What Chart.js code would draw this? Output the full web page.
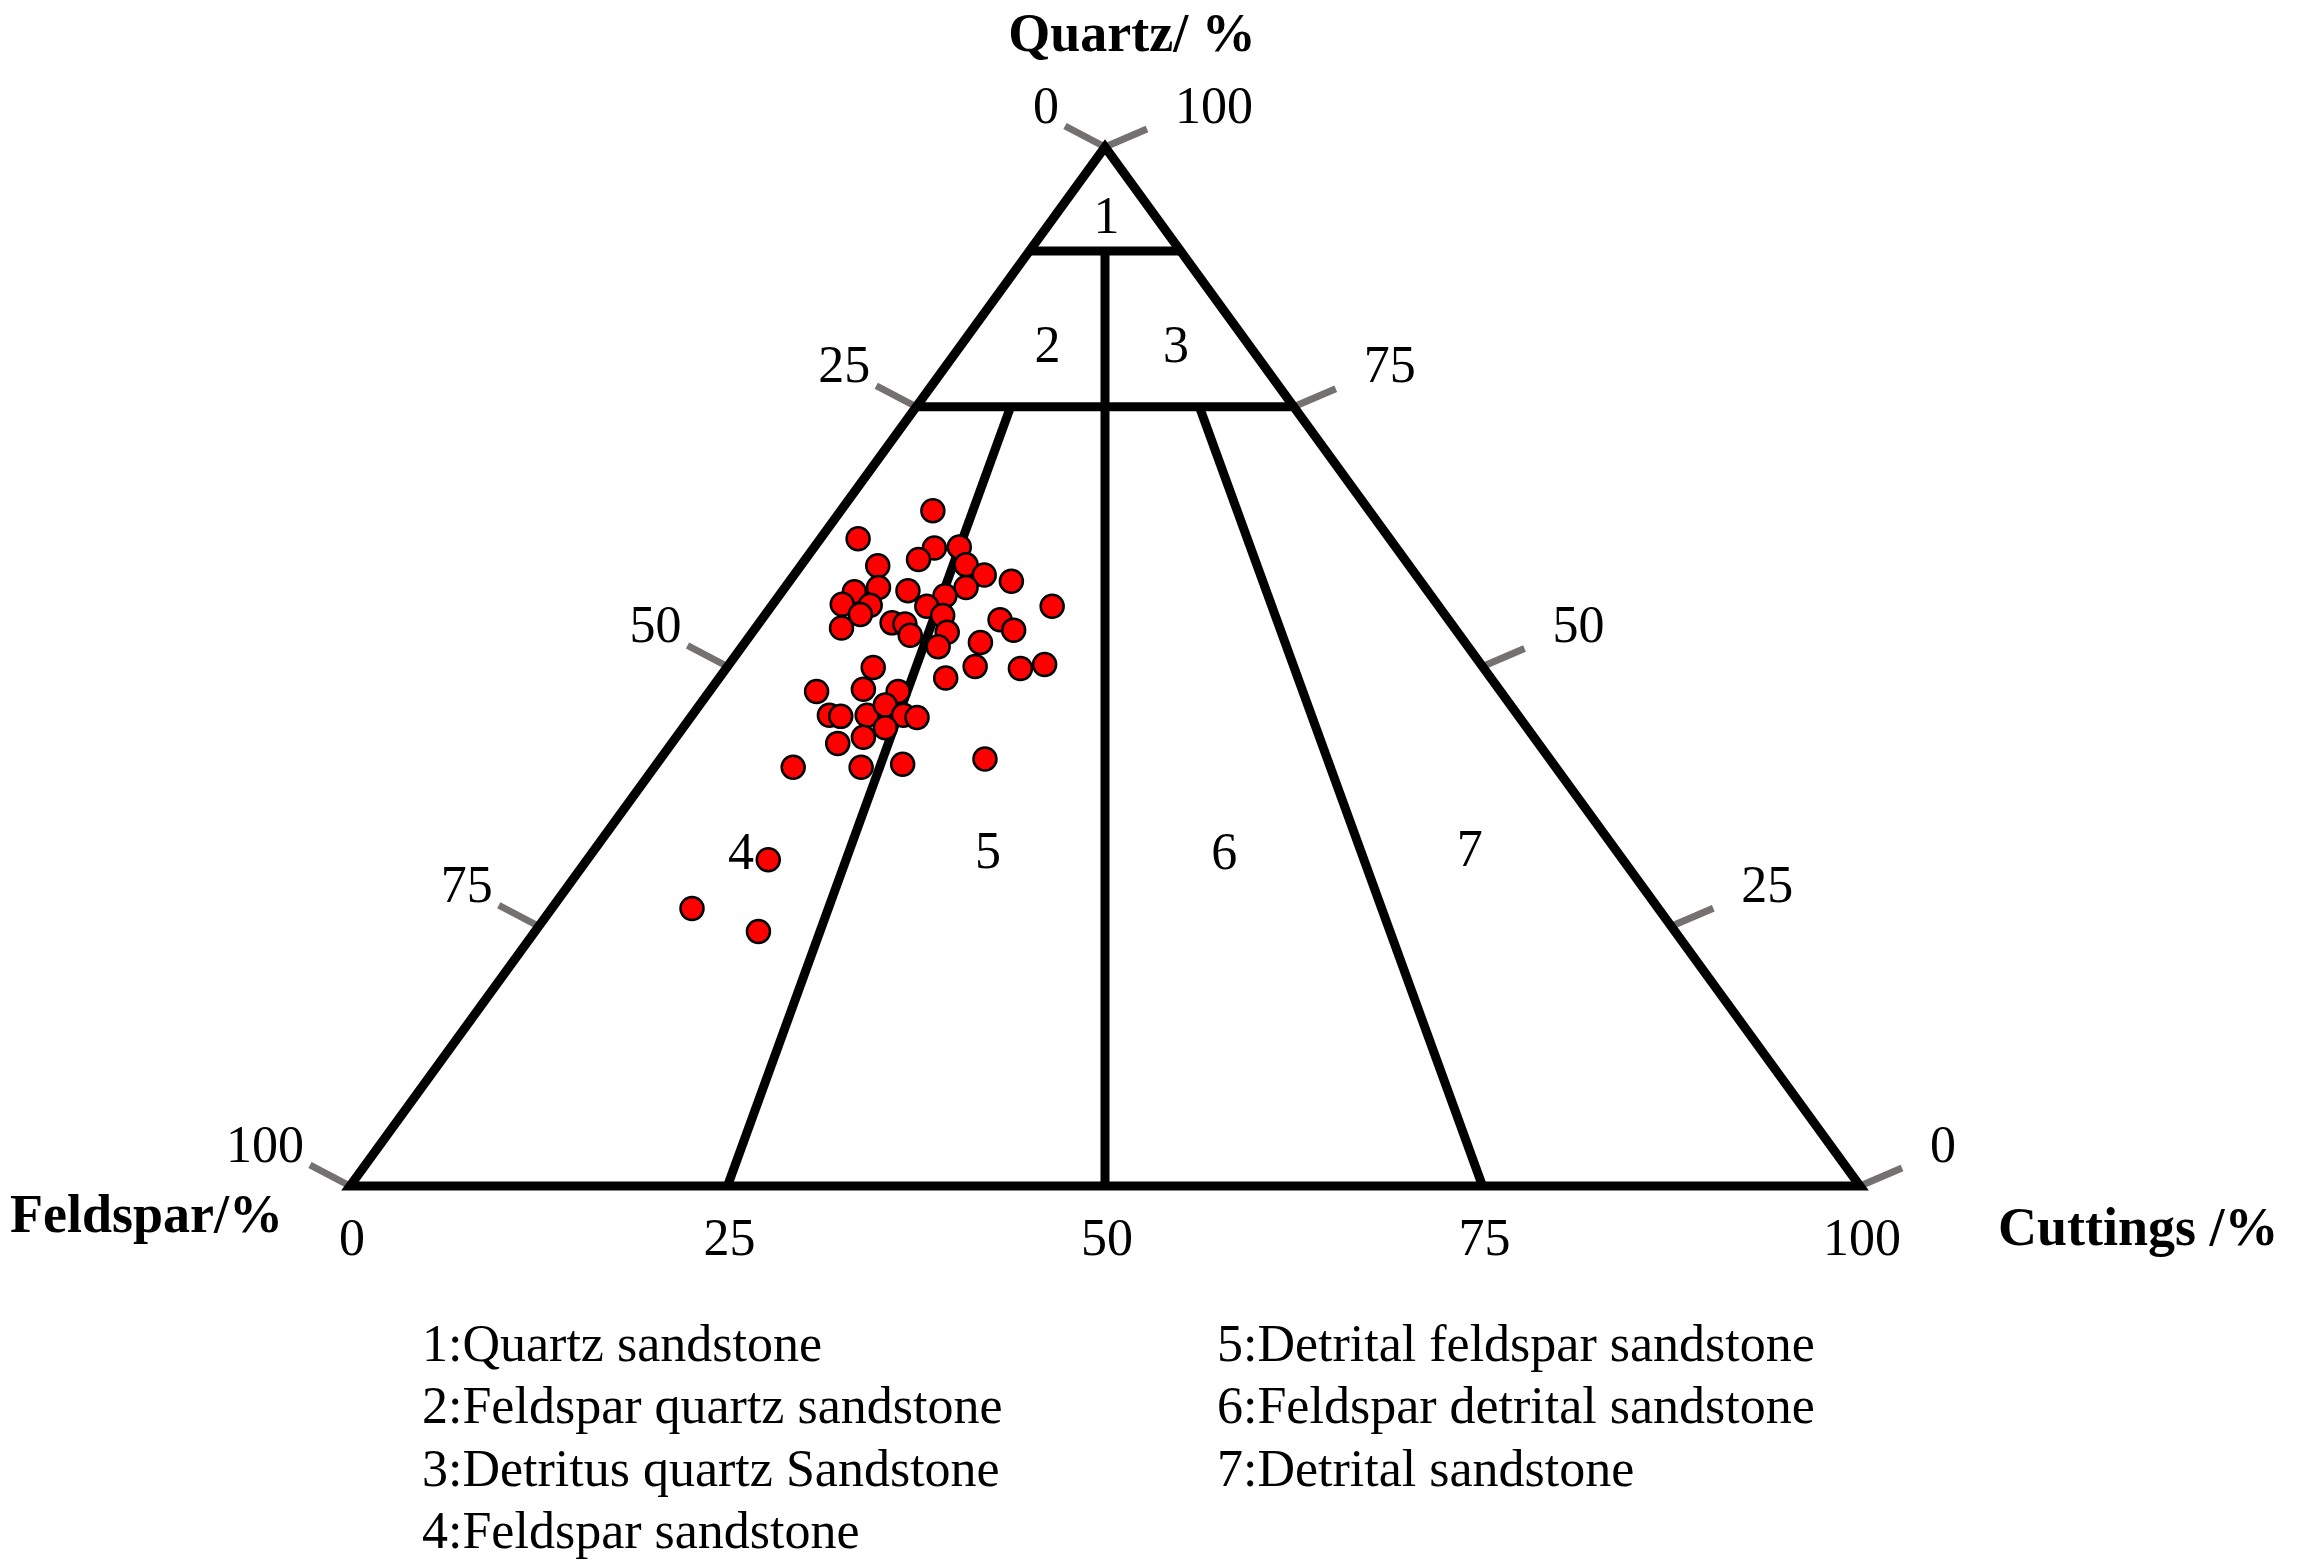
<!DOCTYPE html>
<html>
<head>
<meta charset="utf-8">
<script src="https://cdn.jsdelivr.net/npm/chart.js@4.4.1/dist/chart.umd.min.js"></script>
<style>
  html, body { margin: 0; padding: 0; background: #fff; }
  canvas { display: block; }
</style>
</head>
<body>
<canvas id="myChart" width="2298" height="1562"></canvas>
<script>
// Sample composition (%)
const quartz = [65.0, 62.3, 61.4, 60.3, 61.5, 59.7, 59.8, 58.8, 58.2, 57.6,
  57.2, 57.3, 57.6, 56.8, 56.0, 55.9, 55.8, 55.0, 54.9, 55.8,
  53.7, 54.2, 54.1, 53.0, 54.5, 53.5, 53.3, 51.9, 52.3, 50.0,
  49.9, 49.8, 50.2, 48.9, 47.6, 47.8, 47.6, 45.3, 45.2, 45.3,
  46.3, 45.3, 45.1, 42.6, 43.2, 44.1, 40.3, 40.3, 40.6, 41.1,
  31.4, 26.7, 24.5];
const feldspar = [28.9, 35.2, 30.6, 32.2, 28.9, 35.2, 29.3, 28.6, 27.1, 36.2,
  38.0, 34.4, 30.4, 32.2, 39.4, 37.6, 33.9, 38.7, 33.3, 25.6,
  40.6, 37.0, 36.2, 36.4, 29.7, 29.3, 33.8, 35.1, 32.1, 33.6,
  40.4, 30.7, 28.9, 36.1, 45.3, 42.1, 39.9, 45.6, 44.9, 43.1,
  41.4, 40.7, 39.9, 46.4, 44.4, 42.5, 50.5, 46.0, 43.1, 37.4,
  56.6, 64.0, 60.7];
const cuttings = [6.1, 2.5, 8.0, 7.5, 9.6, 5.1, 10.9, 12.6, 14.7, 6.2,
  4.8, 8.3, 12.0, 11.0, 4.6, 6.5, 10.3, 6.3, 11.8, 18.6,
  5.7, 8.8, 9.7, 10.6, 15.8, 17.2, 12.9, 13.0, 15.6, 16.4,
  9.7, 19.5, 20.9, 15.0, 7.1, 10.1, 12.5, 9.1, 9.9, 11.6,
  12.3, 14.0, 15.0, 11.0, 12.4, 13.4, 9.2, 13.7, 16.3, 21.5,
  12.0, 9.3, 14.8];

const axisTicks = [0, 25, 50, 75, 100];
// class boundaries: quartz levels and cuttings/(feldspar+cuttings) splits
const quartzLevels = [90, 75];
const ratioSplits = [0.5, 0.25, 0.75];
const ratioSplitTop = [90, 75, 75];

const regionNames = ['1', '2', '3', '4', '5', '6', '7'];
const legendLeft = ['1:Quartz sandstone', '2:Feldspar quartz sandstone',
  '3:Detritus quartz Sandstone', '4:Feldspar sandstone'];
const legendRight = ['5:Detrital feldspar sandstone', '6:Feldspar detrital sandstone',
  '7:Detrital sandstone'];

// ternary (quartz, cuttings) -> cartesian data units
function toXY(q, c) {
  return { x: c + q / 2, y: q };
}

// label anchors inside the fields, given as [quartz, cuttings]
const regionAnchors = [[93.2, 3.5], [80.8, 5.8], [80.8, 14.3], [32.0, 9.9],
  [32.1, 26.2], [32.0, 41.9], [32.3, 58.0]];

const samples = quartz.map((q, i) => toXY(q, cuttings[i]));

const boundaryLines = [];
// outline, started mid-base so every corner gets a mitred join
boundaryLines.push([toXY(0, 50), toXY(0, 100), toXY(100, 0), toXY(0, 0), toXY(0, 50)]);
quartzLevels.forEach(q => {
  boundaryLines.push([toXY(q, 0), toXY(q, 100 - q)]);
});
ratioSplits.forEach((r, i) => {
  const qt = ratioSplitTop[i];
  boundaryLines.push([toXY(qt, (100 - qt) * r), toXY(0, 100 * r)]);
});

const lineSets = boundaryLines.map(pts => ({
  type: 'line',
  data: pts,
  showLine: true,
  borderColor: '#000',
  borderWidth: 9,
  borderJoinStyle: 'miter',
  borderCapStyle: 'butt',
  pointRadius: 0,
  fill: false,
  tension: 0,
  clip: false,
  order: 2
}));

const serif = '"Liberation Serif", "Times New Roman", serif';

function pix(chart, q, c) {
  const p = toXY(q, c);
  return { x: chart.scales.x.getPixelForValue(p.x), y: chart.scales.y.getPixelForValue(p.y) };
}

const ternaryDecor = {
  id: 'ternaryDecor',
  beforeDatasetsDraw(chart) {
    const ctx = chart.ctx;
    ctx.save();
    ctx.strokeStyle = '#767171';
    ctx.lineWidth = 7;
    ctx.lineCap = 'butt';
    axisTicks.forEach(v => {
      // left edge: feldspar = v
      const l = pix(chart, 100 - v, 0);
      ctx.beginPath();
      ctx.moveTo(l.x, l.y);
      ctx.lineTo(l.x - 40, l.y - 21);
      ctx.stroke();
      // right edge: quartz = v
      const r = pix(chart, v, 100 - v);
      ctx.beginPath();
      ctx.moveTo(r.x, r.y);
      ctx.lineTo(r.x + 42, r.y - 18);
      ctx.stroke();
    });
    ctx.restore();
  },
  afterDraw(chart) {
    const ctx = chart.ctx;
    ctx.save();
    ctx.fillStyle = '#000';
    ctx.textBaseline = 'middle';

    ctx.font = '52px ' + serif;
    axisTicks.forEach(v => {
      const l = pix(chart, 100 - v, 0);
      ctx.textAlign = 'right';
      ctx.fillText(String(v), l.x - 46, l.y - 38);
      const r = pix(chart, v, 100 - v);
      ctx.textAlign = 'left';
      ctx.fillText(String(v), r.x + 70, r.y - 38);
      const b = pix(chart, 0, v);
      ctx.textAlign = 'center';
      ctx.fillText(String(v), b.x + 2, b.y + 55);
    });

    ctx.textAlign = 'center';
    regionNames.forEach((t, i) => {
      const p = pix(chart, regionAnchors[i][0], regionAnchors[i][1]);
      ctx.fillText(t, p.x, p.y + 2);
    });

    ctx.font = 'bold 54px ' + serif;
    ctx.textAlign = 'center';
    ctx.fillText('Quartz/ %', 1132, 37);
    ctx.textAlign = 'left';
    ctx.fillText('Feldspar/%', 10, 1218);
    ctx.fillText('Cuttings /%', 1998, 1231);

    ctx.font = '52px ' + serif;
    ctx.textAlign = 'left';
    legendLeft.forEach((t, i) => ctx.fillText(t, 422, 1347 + i * 62.5));
    legendRight.forEach((t, i) => ctx.fillText(t, 1217, 1347 + i * 62.5));
    ctx.restore();
  }
};

const ctx = document.getElementById('myChart').getContext('2d');
const myChart = new Chart(ctx, {
  type: 'scatter',
  data: {
    datasets: [
      {
        label: 'Samples',
        data: samples,
        pointRadius: 11.5,
        pointBackgroundColor: '#ff0000',
        pointBorderColor: '#000',
        pointBorderWidth: 2.5,
        clip: false,
        order: 1
      },
      ...lineSets
    ]
  },
  options: {
    responsive: false,
    animation: false,
    events: [],
    layout: { padding: { left: 350, right: 438, top: 147, bottom: 376 } },
    plugins: { legend: { display: false }, tooltip: { enabled: false } },
    scales: {
      x: { type: 'linear', min: 0, max: 100, display: false },
      y: { type: 'linear', min: 0, max: 100, display: false }
    }
  },
  plugins: [ternaryDecor]
});
</script>
</body>
</html>
